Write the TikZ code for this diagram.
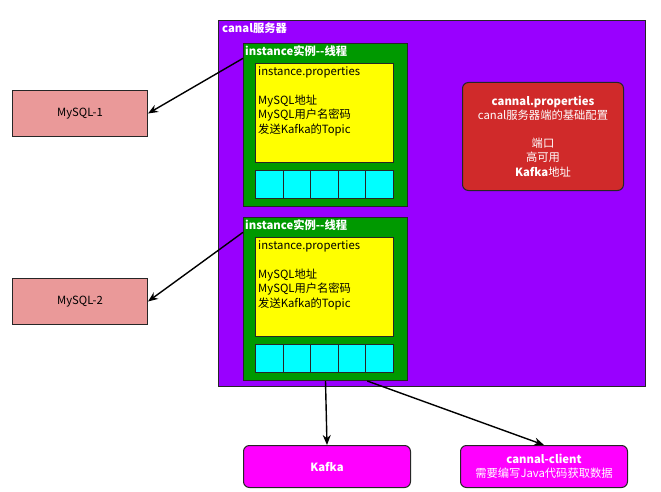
\documentclass[tikz,border=0pt]{standalone}
\usepackage{fontspec}
\setmainfont{Noto Sans CJK SC}
\usetikzlibrary{arrows.meta}
\definecolor{srvviolet}{HTML}{9900FF}
\definecolor{instgreen}{HTML}{009900}
\definecolor{propyellow}{HTML}{FFFF00}
\definecolor{cellcyan}{HTML}{00FFFF}
\definecolor{cfgred}{HTML}{D02A2A}
\definecolor{dbpink}{HTML}{EA9999}
\definecolor{outmagenta}{HTML}{FF00FF}

\begin{document}
\begin{tikzpicture}[x=1pt,y=-1pt,
    every node/.style={font=\fontsize{11.3}{14.5}\selectfont},
    box/.style={draw=black!85, line width=1pt, inner sep=0pt, anchor=north west},
    round/.style={box, rounded corners=6pt, text=white, align=center},
    cell/.style={box, fill=cellcyan, minimum width=27.6pt, minimum height=28pt},
    title/.style={anchor=north west, inner sep=2pt, text=white, font=\fontsize{11.3}{14.5}\selectfont\bfseries},
    >={Stealth[length=10pt,width=8pt]}]
  \useasboundingbox (0,0) rectangle (661,492);

  % canal server
  \node[box, fill=srvviolet, minimum width=427pt, minimum height=366pt] (server) at (218,20) {};
  \node[title] (servertitle) at (220,21) {canal服务器};

  % routine for the two instances
  \foreach \i/\dy in {1/0,2/174} {
    \node[box, fill=instgreen, minimum width=164pt, minimum height=163pt] (inst\i) at (243,43+\dy) {};
    \node[title] (insttitle\i) at (243,43+\dy) {instance实例-{}-线程};
    \node[box, fill=propyellow, minimum width=138pt, minimum height=99pt] (props\i) at (255,63+\dy) {};
    \node[anchor=north west, inner sep=0pt, align=left] (propstext\i) at (258,67+\dy)
      {instance.properties\\[14pt]MySQL地址\\MySQL用户名密码\\发送Kafka的Topic};
    \foreach \k in {0,...,4}
      \node[cell] (cell\i\k) at (255+27.6*\k,170+\dy) {};
  }

  % server config
  \node[round, fill=cfgred, minimum width=161pt, minimum height=108pt] (cfg) at (462,82)
    {\textbf{cannal.properties}\\canal服务器端的基础配置\\[13pt]端口\\高可用\\\textbf{Kafka}地址};

  % databases
  \node[box, fill=dbpink, minimum width=135pt, minimum height=46pt] (mysql1) at (12,90) {MySQL-1};
  \node[box, fill=dbpink, minimum width=135pt, minimum height=46pt] (mysql2) at (12,278) {MySQL-2};

  % outputs
  \node[round, fill=outmagenta, minimum width=167pt, minimum height=42pt] (kafka) at (243,445) {\textbf{Kafka}};
  \node[round, fill=outmagenta, minimum width=167pt, minimum height=42pt] (client) at (460,445)
    {\textbf{cannal-client}\\需要编写Java代码获取数据};

  % connectors
  \draw[->, line width=1.4pt] (insttitle1.south west) -- (mysql1.east);
  \draw[->, line width=1.4pt] (insttitle2.south west) -- (mysql2.east);
  \draw[->, line width=1.4pt] (inst2.south) -- (kafka.north);
  \draw[->, line width=1.4pt] (inst2.-63) -- (client.north);
\end{tikzpicture}
\end{document}
